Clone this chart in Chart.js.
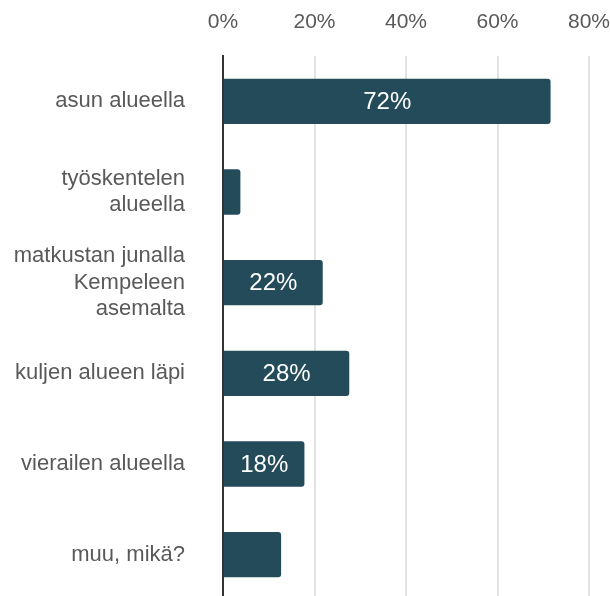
<!DOCTYPE html>
<html>
<head>
<meta charset="utf-8">
<script src="https://cdn.jsdelivr.net/npm/chart.js@4"></script>
<style>
  html, body { margin: 0; padding: 0; overflow: hidden; background: #fff; }
  #wrap { position: relative; width: 610px; height: 600px; }
</style>
</head>
<body>
<div id="wrap"><canvas id="chart"></canvas></div>
<script>
// Vastausvaihtoehdot
var categories = [
    "asun alueella",
    ["työskentelen", "alueella"],
    ["matkustan junalla", "Kempeleen", "asemalta"],
    "kuljen alueen läpi",
    "vierailen alueella",
    "muu, mikä?"
];
// Osuudet prosentteina
var shares = [71.6, 3.8, 21.8, 27.6, 17.8, 12.7];
// Akselin jaot
var tickValues = [0, 20, 40, 60, 80];

var barColor = "#244b5a";
var textGray = "#595959";

// Ei automaattista reunusta akselien nimiöille
function noScalePadding(scale) {
    scale.paddingTop = 0;
    scale.paddingBottom = 0;
    scale.paddingLeft = 0;
    scale.paddingRight = 0;
}

// Prosenttiluvut palkkien sisään
var barLabels = {
    id: "barLabels",
    afterDatasetsDraw: function (chart) {
        var ctx = chart.ctx;
        var meta = chart.getDatasetMeta(0);
        ctx.save();
        ctx.fillStyle = "#ffffff";
        ctx.font = "24px 'Liberation Sans', Arial, sans-serif";
        ctx.textAlign = "center";
        ctx.textBaseline = "middle";
        meta.data.forEach(function (bar, i) {
            var v = chart.data.datasets[0].data[i];
            if (v < 15) return; // pienet palkit ilman lukua
            ctx.fillText(Math.round(v) + "%", (bar.x + bar.base) / 2, bar.y + 1);
        });
        ctx.restore();
    }
};

var chart = new Chart(document.getElementById("chart").getContext("2d"), {
    type: "bar",
    data: {
        labels: categories,
        datasets: [{
            data: shares,
            backgroundColor: barColor,
            borderRadius: 3,
            borderSkipped: "start",
            categoryPercentage: 1.0,
            barPercentage: 0.5
        }]
    },
    options: {
        indexAxis: "y",
        responsive: true,
        maintainAspectRatio: false,
        animation: false,
        layout: { autoPadding: false, padding: { top: 0, right: 21, bottom: 0, left: 0 } },
        scales: {
            x: {
                position: "top",
                min: 0,
                max: 80,
                afterBuildTicks: function (scale) {
                    scale.ticks = tickValues.map(function (v) { return { value: v }; });
                },
                afterFit: function (scale) { scale.height = 56; noScalePadding(scale); },
                grid: { color: "#e3e3e3", lineWidth: 2, drawTicks: false },
                border: { display: false },
                ticks: {
                    color: textGray,
                    padding: 21,
                    font: { size: 21, family: "'Liberation Sans', Arial, sans-serif" },
                    callback: function (v) { return v + "%"; }
                }
            },
            y: {
                afterFit: function (scale) { scale.width = 223; noScalePadding(scale); },
                grid: { display: false, drawTicks: false },
                border: { display: true, color: "#333333", width: 2 },
                ticks: {
                    color: textGray,
                    padding: 38,
                    autoSkip: false,
                    font: { size: 22, family: "'Liberation Sans', Arial, sans-serif" }
                }
            }
        },
        plugins: {
            legend: { display: false },
            tooltip: { enabled: false }
        }
    },
    plugins: [barLabels]
});
</script>
</body>
</html>
